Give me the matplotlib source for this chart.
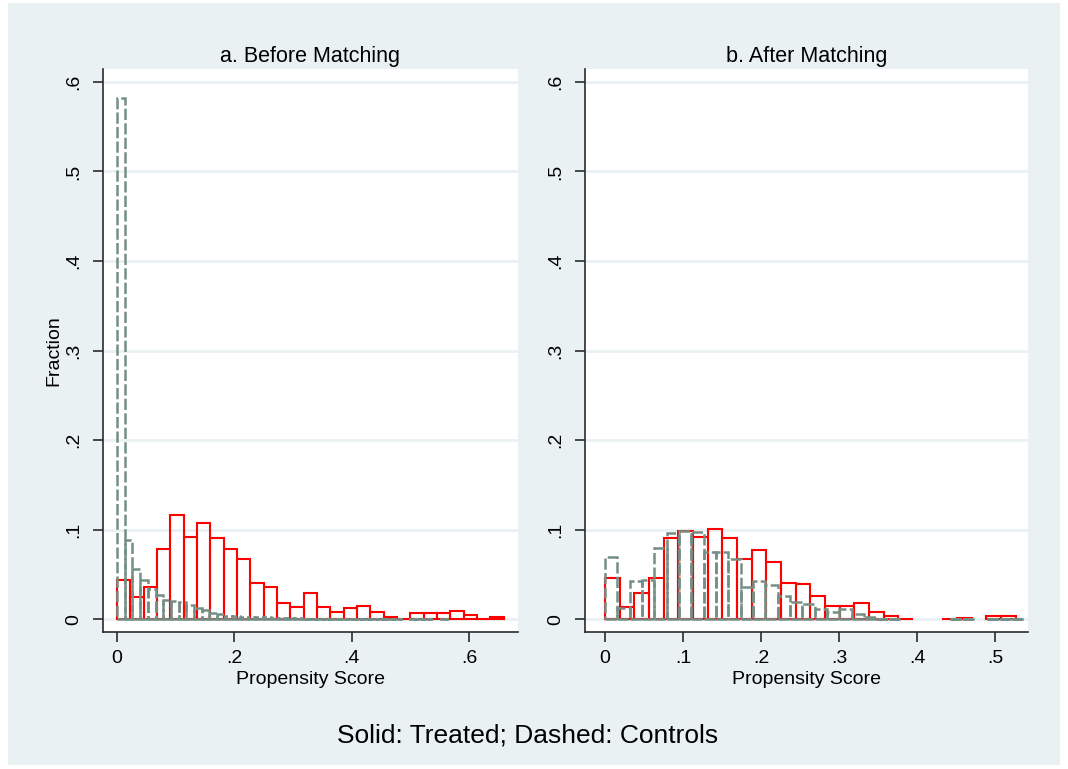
import numpy as np
import matplotlib.pyplot as plt
from matplotlib.patches import Rectangle

plt.rcParams['font.family'] = ['Liberation Sans', 'DejaVu Sans']

# Histogram fractions per bin (bins start at 0)
treated_before = [0.0437, 0.025, 0.036, 0.079, 0.117, 0.092, 0.108, 0.091, 0.079, 0.068,
                  0.041, 0.036, 0.018, 0.014, 0.030, 0.014, 0.0086, 0.013, 0.0154, 0.0086,
                  0.0023, 0.0007, 0.0068, 0.0075, 0.0075, 0.009, 0.0053, 0.001, 0.0023]
controls_before = [0.582, 0.0887, 0.0566, 0.0445, 0.0343, 0.0275, 0.0219, 0.0207, 0.019, 0.0162,
                   0.0125, 0.0108, 0.0068, 0.0057, 0.0037, 0.0035, 0.003, 0.003, 0.0028, 0.0025,
                   0.002, 0.002, 0.0015, 0.0015, 0.001, 0.001, 0.001, 0.0008, 0.0008, 0.0006,
                   0.0005, 0.0005, 0.0004, 0.0004, 0.0003, 0.0003, 0.0003, 0, 0.0003, 0.0003,
                   0.0002, 0, 0.0002]
treated_after = [0.0467, 0.0138, 0.0295, 0.0467, 0.0907, 0.099, 0.092, 0.1008, 0.0907, 0.067,
                 0.077, 0.064, 0.041, 0.0396, 0.026, 0.0153, 0.0153, 0.018, 0.0082, 0.0037,
                 0.0007, 0, 0, 0.0007, 0.002, 0, 0.0035, 0.0035]
controls_after = [0.0695, 0.0124, 0.0424, 0.0436, 0.080, 0.096, 0.0985, 0.098, 0.0752, 0.0755,
                  0.068, 0.036, 0.0424, 0.038, 0.0263, 0.0192, 0.017, 0.0115, 0.0085, 0.0115,
                  0.006, 0.003, 0.001, 0.0008, 0, 0, 0, 0, 0.0005, 0.0005,
                  0, 0.0006, 0.0006, 0.0006]

width_treated_before = 0.0227
width_controls_before = 0.0131
width_treated_after = 0.0188
width_controls_after = 0.0158

yticks = [0, 0.1, 0.2, 0.3, 0.4, 0.5, 0.6]
ytick_labels = ['0', '.1', '.2', '.3', '.4', '.5', '.6']
xticks_before = [0, 0.2, 0.4, 0.6]
xlabels_before = ['0', '.2', '.4', '.6']
xticks_after = [0, 0.1, 0.2, 0.3, 0.4, 0.5]
xlabels_after = ['0', '.1', '.2', '.3', '.4', '.5']

BG = '#e9f1f3'
RED = '#ff0000'
GRAY = '#748f85'
AXIS = '#2b2b2b'
DASH = (0, (4.5, 1.3))

W, H = 1068, 769
fig = plt.figure(figsize=(W / 100, H / 100), dpi=100)
fig.patch.set_facecolor('white')
fig.add_artist(Rectangle((8 / W, 4 / H), 1052 / W, 762 / H, transform=fig.transFigure,
                         facecolor=BG, edgecolor='none', zorder=0))


def draw_hist(ax, heights, width, color, ls, lw):
    heights = np.array(heights)
    left = np.arange(len(heights)) * width
    keep = heights > 0
    ax.bar(left[keep], heights[keep], width=width, align='edge', fill=False,
           edgecolor=color, linewidth=lw, linestyle=ls, zorder=3)


def style_axes(ax, xlim, xticks, xlabels, title):
    ax.set_facecolor('white')
    ax.set_xlim(*xlim)
    ax.set_ylim(-0.014, 0.6144)
    for s in ['top', 'right']:
        ax.spines[s].set_visible(False)
    for s in ['left', 'bottom']:
        ax.spines[s].set_color(AXIS)
        ax.spines[s].set_linewidth(1.2)
    ax.set_yticks(yticks)
    ax.set_yticklabels(ytick_labels, rotation=90, va='center', fontsize=14)
    ax.set_xticks(xticks)
    ax.set_xticklabels(xlabels, fontsize=14)
    ax.tick_params(axis='x', direction='out', length=7, width=1.2, color=AXIS, pad=6)
    ax.tick_params(axis='y', direction='out', length=7, width=1.2, color=AXIS, pad=8)
    ax.grid(axis='y', color=BG, linewidth=2)
    ax.set_axisbelow(True)
    ax.set_xlabel('Propensity Score', fontsize=14, labelpad=3)
    ax.set_title(title, fontsize=15.5, pad=5)


ax1 = fig.add_axes([103 / W, 1 - 632 / H, 415 / W, 563 / H])
draw_hist(ax1, treated_before, width_treated_before, RED, '-', 1.5)
draw_hist(ax1, controls_before, width_controls_before, GRAY, DASH, 1.8)
style_axes(ax1, (-0.024, 0.683), xticks_before, xlabels_before, 'a. Before Matching')
ax1.set_ylabel('Fraction', fontsize=14, labelpad=2)

ax2 = fig.add_axes([585 / W, 1 - 632 / H, 443 / W, 563 / H])
draw_hist(ax2, treated_after, width_treated_after, RED, '-', 1.5)
draw_hist(ax2, controls_after, width_controls_after, GRAY, DASH, 1.8)
style_axes(ax2, (-0.0256, 0.542), xticks_after, xlabels_after, 'b. After Matching')

fig.text(528 / W, 1 - 735 / H, 'Solid: Treated; Dashed: Controls', ha='center', va='center',
         fontsize=19)

fig.savefig('out.png', dpi=100)
